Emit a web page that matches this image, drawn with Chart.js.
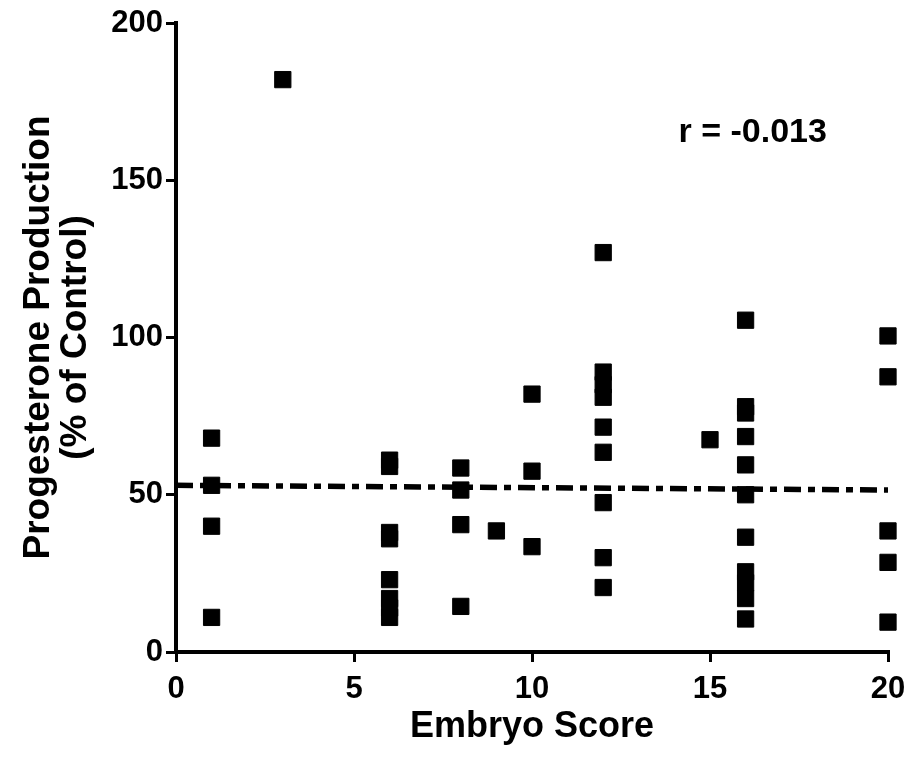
<!DOCTYPE html>
<html>
<head>
<meta charset="utf-8">
<script src="https://cdn.jsdelivr.net/npm/chart.js@4/dist/chart.umd.min.js"></script>
<style>
  html, body { margin: 0; padding: 0; background: #ffffff; }
  #wrap { width: 913px; height: 772px; }
</style>
</head>
<body>
<div id="wrap"><canvas id="c" width="913" height="772"></canvas></div>
<script>
// ---- data ----
const embryoScore = [
  1, 1, 1, 1,
  3,
  6, 6, 6, 6, 6, 6, 6, 6,
  8, 8, 8, 8,
  9,
  10, 10, 10,
  12, 12, 12, 12, 12, 12, 12, 12, 12,
  15,
  16, 16, 16, 16, 16, 16, 16, 16, 16, 16, 16,
  20, 20, 20, 20, 20
];
const progesterone = [
  68, 53, 40, 11,
  182,
  61, 59, 38, 36, 23, 17, 14, 11,
  58.5, 51.5, 40.5, 14.5,
  38.5,
  82, 57.5, 33.5,
  127, 89, 85, 81, 71.5, 63.5, 47.5, 30, 20.5,
  67.5,
  105.5, 78, 76, 68.5, 59.5, 50, 36.5, 25.5, 22, 17, 10.5,
  100.5, 87.5, 38.5, 28.5, 9.5
];
const fitX = [0, 20];
const fitY = [53, 51.5];
const xTicks = [0, 5, 10, 15, 20];
const yTicks = [0, 50, 100, 150, 200];
const xTitle = 'Embryo Score';
const yTitle = ['Progesterone Production', '(% of Control)'];
const rText = 'r = -0.013';
const rPos = [16.2, 165];

const FONT = '"Liberation Sans", Arial, Helvetica, sans-serif';

const scatterPts = embryoScore.map((x, i) => ({ x: x, y: progesterone[i] }));
const fitPts = fitX.map((x, i) => ({ x: x, y: fitY[i] }));

const rLabel = {
  id: 'rLabel',
  afterDatasetsDraw(chart) {
    const { ctx, scales } = chart;
    const px = scales.x.getPixelForValue(rPos[0]);
    const py = scales.y.getPixelForValue(rPos[1]);
    ctx.save();
    ctx.fillStyle = '#000';
    ctx.font = 'bold 34px ' + FONT;
    ctx.textAlign = 'center';
    ctx.textBaseline = 'middle';
    ctx.fillText(rText, px, py);
    ctx.restore();
  }
};

new Chart(document.getElementById('c'), {
  type: 'scatter',
  data: {
    datasets: [
      {
        data: fitPts,
        showLine: true,
        borderColor: '#000',
        borderWidth: 5.5,
        borderDash: [17, 7, 7, 7],
        pointRadius: 0,
        fill: false,
        clip: false,
        order: 2
      },
      {
        data: scatterPts,
        pointStyle: 'rect',
        pointRadius: 11.5,
        pointBorderWidth: 1,
        backgroundColor: '#000',
        borderColor: '#000',
        clip: false,
        order: 1
      }
    ]
  },
  options: {
    responsive: false,
    animation: false,
    events: [],
    layout: { padding: { left: 0, top: 23, right: 25, bottom: 0 } },
    plugins: {
      legend: { display: false },
      tooltip: { enabled: false }
    },
    scales: {
      x: {
        type: 'linear',
        min: 0,
        max: 20,
        afterFit(scale) { scale.height = 120; scale.paddingRight = 0; scale.paddingLeft = 0; },
        afterBuildTicks(scale) { scale.ticks = xTicks.map(v => ({ value: v })); },
        border: { display: true, color: '#000', width: 4 },
        grid: { drawOnChartArea: false, drawTicks: true, tickLength: 10, color: '#000', lineWidth: 3 },
        ticks: {
          color: '#000',
          padding: 9,
          font: { family: FONT, size: 31, weight: 'bold' }
        },
        title: {
          display: true,
          text: xTitle,
          color: '#000',
          font: { family: FONT, size: 36, weight: 'bold', lineHeight: 1.0 },
          padding: { top: 0, bottom: 27 }
        }
      },
      y: {
        type: 'linear',
        min: 0,
        max: 200,
        afterFit(scale) { scale.width = 176; },
        afterBuildTicks(scale) { scale.ticks = yTicks.map(v => ({ value: v })); },
        border: { display: true, color: '#000', width: 4 },
        grid: { drawOnChartArea: false, drawTicks: true, tickLength: 10, color: '#000', lineWidth: 3 },
        ticks: {
          color: '#000',
          padding: 3,
          font: { family: FONT, size: 31, weight: 'bold' }
        },
        title: {
          display: true,
          text: yTitle,
          color: '#000',
          font: { family: FONT, size: 37, weight: 'bold', lineHeight: 0.98 },
          padding: { top: 21, bottom: 0 }
        }
      }
    }
  },
  plugins: [rLabel]
});
</script>
</body>
</html>
